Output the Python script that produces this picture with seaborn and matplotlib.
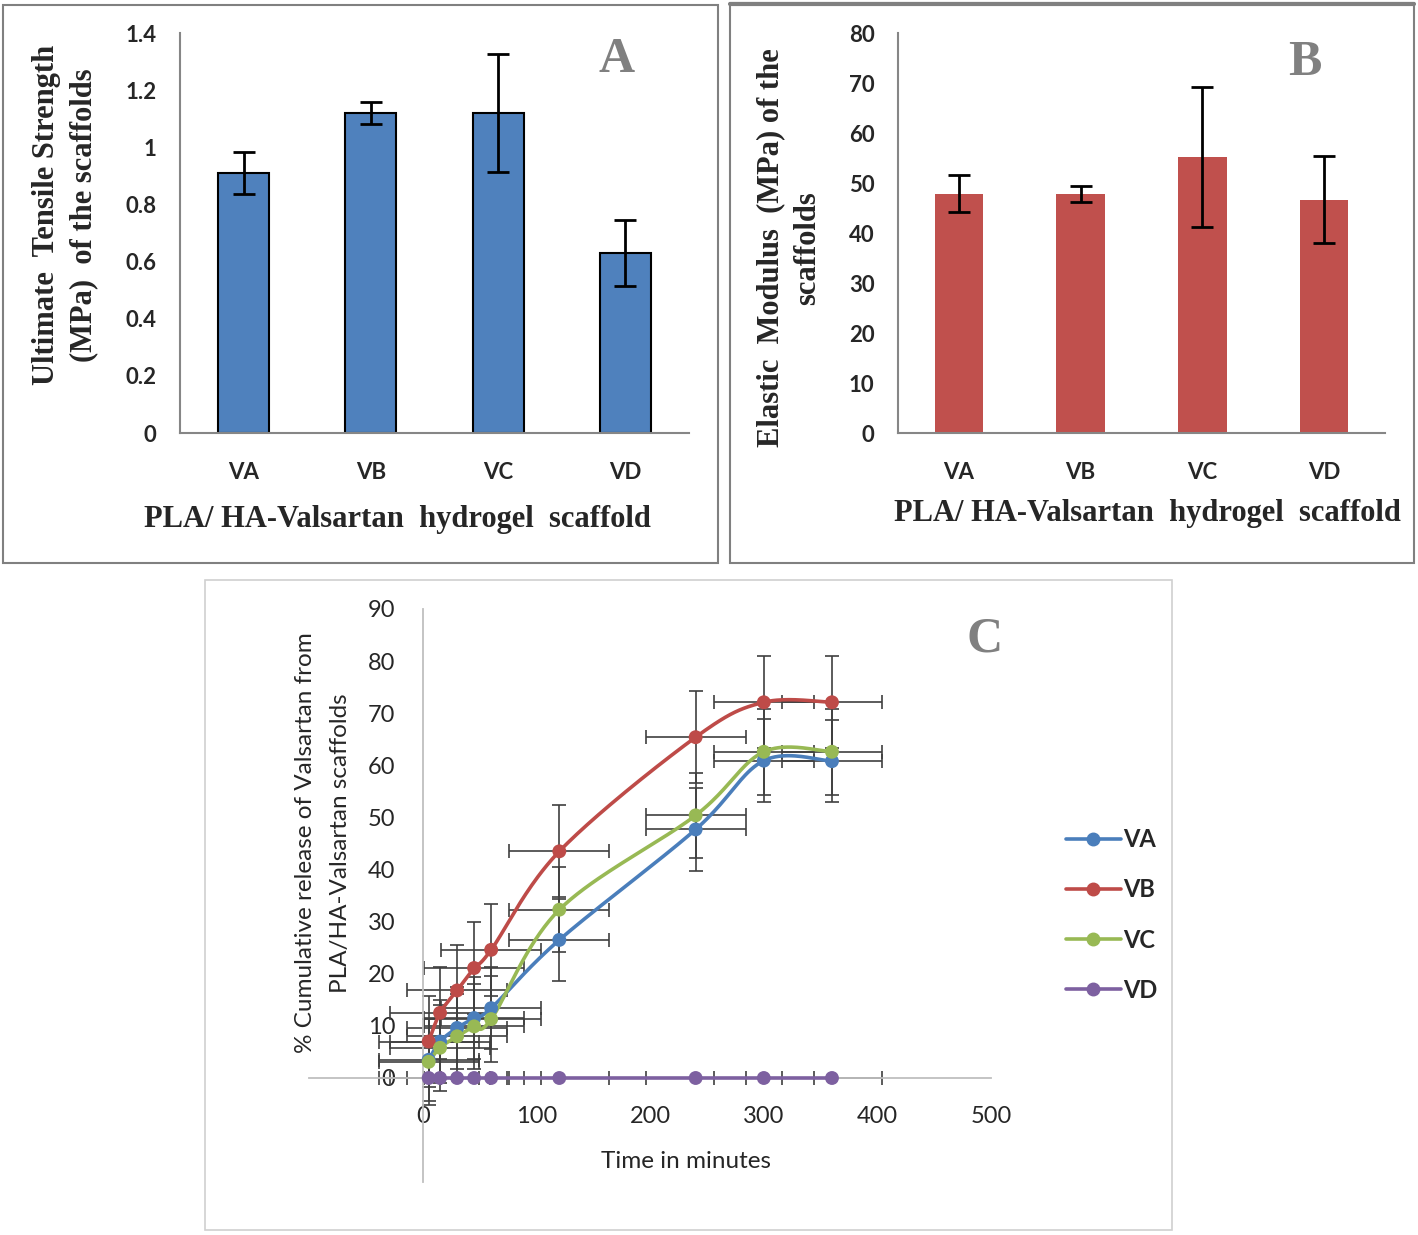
import numpy as np
import pandas as pd
import seaborn as sns
import matplotlib
matplotlib.use("Agg")
import matplotlib.pyplot as plt
from matplotlib.patches import Rectangle
from matplotlib.lines import Line2D

# ---- data ----
groups = ["VA", "VB", "VC", "VD"]
uts_mean = [0.91, 1.12, 1.12, 0.63]
uts_err = [0.075, 0.04, 0.205, 0.117]
mod_mean = [47.9, 47.9, 55.2, 46.7]
mod_err = [3.7, 1.6, 14.0, 8.7]

time_min = [5, 15, 30, 45, 60, 120, 240, 300, 360]
rel_va = [3.5, 7.0, 9.6, 11.5, 13.4, 26.5, 47.7, 60.9, 60.8]
rel_vb = [7.0, 12.5, 16.8, 21.1, 24.6, 43.5, 65.4, 72.1, 72.1]
rel_vc = [3.1, 5.8, 8.0, 9.9, 11.3, 32.3, 50.4, 62.6, 62.6]
rel_vd = [0, 0, 0, 0, 0, 0, 0, 0, 0]
rel_yerr = [7.9, 8.8, 8.2, 0.0]
time_xerr = 44

W, H = 1418, 1235
sns.set_style("white")
plt.rcParams['font.family'] = ['Lato', 'DejaVu Sans']

fig = plt.figure(figsize=(W / 100, H / 100), dpi=100)


def fx(x):
    return x / W


def fy(y):
    return 1 - y / H


def box(x0, y0, x1, y1, color, lw=1.5):
    fig.patches.append(Rectangle((fx(x0), fy(y1)), fx(x1 - x0), (y1 - y0) / H,
                                 transform=fig.transFigure, fill=False,
                                 edgecolor=color, linewidth=lw))


box(3, 5, 718, 563, "#808080")
box(730, 3, 1414, 563, "#808080")
fig.lines.append(Line2D([fx(730), fx(1414)], [fy(4), fy(4)], transform=fig.transFigure,
                        color="#808080", lw=3))
box(205, 580, 1172, 1230, "#D0D0D0", 1.2)

serif = "Liberation Serif"
axis_gray = "#868686"


def bar_panel(ax, vals, errs, color, edge, ymax, step, fmt):
    df = pd.DataFrame({"group": groups, "val": vals})
    sns.barplot(data=df, x="group", y="val", color=color, edgecolor=edge,
                linewidth=1.5 if edge != "none" else 0, width=0.4,
                errorbar=None, saturation=1, ax=ax)
    ax.errorbar(range(4), vals, yerr=errs, fmt="none", ecolor="black",
                elinewidth=2, capsize=8, capthick=2, zorder=5)
    ax.set_xlim(-0.5, 3.5)
    ax.set_ylim(0, ymax)
    ax.set_yticks(np.arange(0, ymax + step / 2, step))
    ax.set_yticklabels([fmt(v) for v in np.arange(0, ymax + step / 2, step)])
    ax.set_xticks(np.arange(-0.5, 4, 1), minor=True)
    ax.tick_params(axis="x", which="major", length=0, pad=21, labelsize=16)
    ax.tick_params(axis="x", which="minor", length=8, color=axis_gray, width=1.5, direction="out")
    ax.tick_params(axis="y", length=7, color=axis_gray, width=1.5, direction="out", pad=10,
                   labelsize=16)
    for t in ax.get_xticklabels() + ax.get_yticklabels():
        t.set_fontweight("bold")
    ax.set_xlabel("")
    ax.set_ylabel("")
    for s in ["top", "right"]:
        ax.spines[s].set_visible(False)
    for s in ["left", "bottom"]:
        ax.spines[s].set_color(axis_gray)
        ax.spines[s].set_linewidth(1.5)


def fmt_a(v):
    v = round(v, 1)
    return "0" if v == 0 else ("1" if v == 1 else f"{v:g}")


ax_a = fig.add_axes([fx(180), fy(433), fx(509), 400 / H])
bar_panel(ax_a, uts_mean, uts_err, "#4F81BD", "black", 1.4, 0.2, fmt_a)
ax_b = fig.add_axes([fx(898), fy(433), fx(487), 400 / H])
bar_panel(ax_b, mod_mean, mod_err, "#C0504D", "none", 80, 10, lambda v: f"{int(round(v))}")

# titles for A and B
fig.text(fx(47), fy(215), "Ultimate  Tensile Strength", rotation=90, ha="center", va="center",
         family=serif, weight="bold", fontsize=22)
fig.text(fx(84), fy(215), "(MPa)  of the scaffolds", rotation=90, ha="center", va="center",
         family=serif, weight="bold", fontsize=22)
fig.text(fx(397), fy(520), "PLA/ HA-Valsartan  hydrogel  scaffold", ha="center", va="center",
         family=serif, weight="bold", fontsize=22)
fig.text(fx(617), fy(60), "A", ha="center", va="center", family=serif, weight="bold",
         fontsize=36, color="#808080")
fig.text(fx(771), fy(248), "Elastic  Modulus  (MPa) of the", rotation=90, ha="center",
         va="center", family=serif, weight="bold", fontsize=22)
fig.text(fx(808), fy(248), "scaffolds", rotation=90, ha="center", va="center",
         family=serif, weight="bold", fontsize=22)
fig.text(fx(1147), fy(513), "PLA/ HA-Valsartan  hydrogel  scaffold", ha="center", va="center",
         family=serif, weight="bold", fontsize=22)
fig.text(fx(1305), fy(63), "B", ha="center", va="center", family=serif, weight="bold",
         fontsize=36, color="#808080")


# ---- panel C ----
def smooth(xs, ys, n=40):
    # Excel style smoothed line (bezier through points, tension 1/6)
    P = np.column_stack([xs, ys]).astype(float)
    Pe = np.vstack([P[0], P, P[-1]])
    t = np.linspace(0, 1, n)[:, None]
    out = []
    for i in range(len(P) - 1):
        p0, p1, p2, p3 = Pe[i], Pe[i + 1], Pe[i + 2], Pe[i + 3]
        c1 = p1 + (p2 - p0) / 6
        c2 = p2 - (p3 - p1) / 6
        out.append((1 - t) ** 3 * p1 + 3 * (1 - t) ** 2 * t * c1 + 3 * (1 - t) * t ** 2 * c2 + t ** 3 * p2)
    return np.vstack(out)


x0_px, x500_px = 423, 991
ppx = (x500_px - x0_px) / 500
y0_px, y90_px = 1078, 609
ppy = (y0_px - y90_px) / 90
xmin, xmax, ymin, ymax = -100, 500, -20, 90
left_px = x0_px + xmin * ppx
bottom_px = y0_px - ymin * ppy
ax_c = fig.add_axes([fx(left_px), fy(bottom_px), fx((xmax - xmin) * ppx), (ymax - ymin) * ppy / H])

series = {"VA": rel_va, "VB": rel_vb, "VC": rel_vc, "VD": rel_vd}
colors = {"VA": "#4A7EBB", "VB": "#BE4B48", "VC": "#98B954", "VD": "#7D60A0"}
long_rows = []
for (name, vals), yerr in zip(series.items(), rel_yerr):
    ax_c.errorbar(time_min, vals, xerr=time_xerr, yerr=yerr, fmt="none", ecolor="#3F3F3F",
                  elinewidth=1.2, capsize=5, capthick=1.2, zorder=2)
    curve = smooth(time_min, vals)
    ax_c.plot(curve[:, 0], curve[:, 1], color=colors[name], lw=2.6, zorder=3, solid_capstyle="round")
    for t_, v in zip(time_min, vals):
        long_rows.append({"time": t_, "release": v, "series": name})

df_c = pd.DataFrame(long_rows)
sns.scatterplot(data=df_c, x="time", y="release", hue="series", palette=colors, s=100,
                edgecolor="none", legend=False, zorder=4, ax=ax_c)

ax_c.set_xlim(xmin, xmax)
ax_c.set_ylim(ymin, ymax)
ax_c.set_xticks(range(0, 501, 100))
ax_c.set_yticks(range(0, 91, 10))
ax_c.spines["left"].set_position(("data", 0))
ax_c.spines["bottom"].set_position(("data", 0))
for s in ["top", "right"]:
    ax_c.spines[s].set_visible(False)
for s in ["left", "bottom"]:
    ax_c.spines[s].set_color("#BFBFBF")
    ax_c.spines[s].set_linewidth(1.3)
ax_c.tick_params(axis="x", length=0, pad=20, labelsize=17)
ax_c.tick_params(axis="y", length=0, pad=20, labelsize=17)
ax_c.set_xlabel("")
ax_c.set_ylabel("")
ax_c.patch.set_alpha(0)

fig.text(fx(306), fy(843), "% Cumulative release of Valsartan from", rotation=90, ha="center",
         va="center", fontsize=17.5)
fig.text(fx(340), fy(843), "PLA/HA-Valsartan scaffolds", rotation=90, ha="center",
         va="center", fontsize=17.5)
fig.text(fx(686), fy(1162), "Time in minutes", ha="center", va="center", fontsize=17.5)
fig.text(fx(985), fy(640), "C", ha="center", va="center", family=serif, weight="bold",
         fontsize=36, color="#808080")

handles = [Line2D([0], [0], color=colors[k], lw=2.6, marker="o", ms=9) for k in series]
ax_c.legend(handles, list(series.keys()), loc="center left",
            bbox_to_anchor=(fx(1045), fy(915)), bbox_transform=fig.transFigure,
            frameon=False, handlelength=2.3, handletextpad=0.1, labelspacing=1.15,
            prop={"size": 17, "weight": "bold"})

fig.savefig("out.png", dpi=100)
plt.close(fig)
